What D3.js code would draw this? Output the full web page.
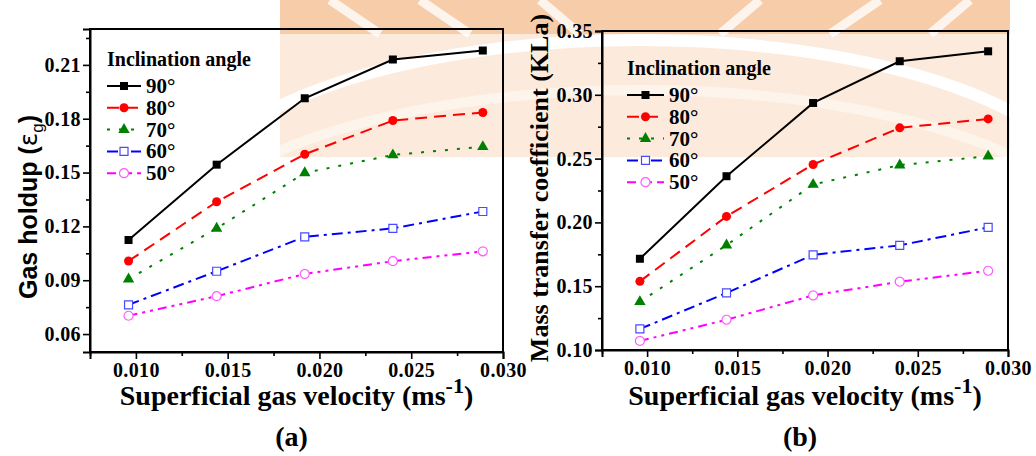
<!DOCTYPE html>
<html>
<head>
<meta charset="utf-8">
<script src="https://cdn.jsdelivr.net/npm/d3@7/dist/d3.min.js"></script>
<style>
  body { margin: 0; background: #ffffff; }
  svg { display: block; }
</style>
</head>
<body>
<div id="chart"></div>
<script>
// ---- data ----
const velocity = [0.0096, 0.0144, 0.0192, 0.0240, 0.0289];
const angles = ["90°", "80°", "70°", "60°", "50°"];

// (a) gas holdup
const holdup90 = [0.1124, 0.1544, 0.1914, 0.2130, 0.2180];
const holdup80 = [0.1007, 0.1337, 0.1602, 0.1790, 0.1835];
const holdup70 = [0.0906, 0.1189, 0.1498, 0.1598, 0.1644];
const holdup60 = [0.0763, 0.0950, 0.1142, 0.1189, 0.1283];
const holdup50 = [0.0702, 0.0811, 0.0935, 0.1006, 0.1061];

// (b) mass transfer coefficient
const kla90 = [0.1715, 0.2362, 0.2936, 0.3263, 0.3341];
const kla80 = [0.1538, 0.2047, 0.2454, 0.2741, 0.2811];
const kla70 = [0.1378, 0.1822, 0.2297, 0.2449, 0.2519];
const kla60 = [0.1165, 0.1447, 0.1746, 0.1820, 0.1961];
const kla50 = [0.1071, 0.1237, 0.1428, 0.1535, 0.1621];

const xTicks = [0.010, 0.015, 0.020, 0.025, 0.030];
const xMinor = [0.0075, 0.0125, 0.0175, 0.0225, 0.0275];
const holdupTicks = [0.06, 0.09, 0.12, 0.15, 0.18, 0.21];
const holdupMinor = [0.075, 0.105, 0.135, 0.165, 0.195, 0.225];
const klaTicks = [0.10, 0.15, 0.20, 0.25, 0.30, 0.35];
const klaMinor = [0.125, 0.175, 0.225, 0.275, 0.325];

// ---- styles ----
const serif = "'Times New Roman', 'Liberation Serif', serif";
const sans = "Arial, 'Liberation Sans', sans-serif";
const seriesStyle = [
  { color: "#000000", dash: null, symbol: d3.symbolSquare, size: 64, open: false },
  { color: "#ff0000", dash: "12,7", symbol: d3.symbolCircle, size: 64, open: false },
  { color: "#008000", dash: "3,9", symbol: d3.symbolTriangle, size: 56, open: false },
  { color: "#0000ff", dash: "11,5,3,5", symbol: d3.symbolSquare, size: 64, open: true, stroke: "#4a4aff" },
  { color: "#ff00ff", dash: "9,5,3,5,3,5", symbol: d3.symbolCircle, size: 64, open: true, stroke: "#ff5cff" }
];

const W = 1036, H = 456;
const svg = d3.select("#chart").append("svg").attr("width", W).attr("height", H);

// faint watermark behind the figure
const defs = svg.append("defs");
defs.append("clipPath").attr("id", "wmclip")
  .append("rect").attr("x", 280).attr("y", 0).attr("width", 730).attr("height", 157);
const wm = svg.append("g").attr("clip-path", "url(#wmclip)");
wm.append("rect").attr("x", 280).attr("y", 0).attr("width", 730).attr("height", 157)
  .attr("fill", "#fcebdc");
wm.append("rect").attr("x", 280).attr("y", 0).attr("width", 730).attr("height", 34)
  .attr("fill", "#f7cca8");
wm.append("ellipse").attr("cx", 640).attr("cy", 205).attr("rx", 450).attr("ry", 165)
  .attr("fill", "none").attr("stroke", "#ffffff").attr("stroke-width", 12);
wm.append("ellipse").attr("cx", 640).attr("cy", 260).attr("rx", 470).attr("ry", 170)
  .attr("fill", "none").attr("stroke", "#fdf4ec").attr("stroke-width", 10);
[[330, 380], [420, 470], [540, 580], [760, 720], [880, 830], [970, 930]].forEach(p => {
  wm.append("line").attr("x1", p[0]).attr("y1", 0).attr("x2", p[1]).attr("y2", 34)
    .attr("stroke", "#ffffff").attr("stroke-width", 9).attr("opacity", 0.8);
});

function drawPanel(cfg) {
  const x = d3.scaleLinear().domain([0.0075, 0.030]).range([cfg.left, cfg.right]);
  const y = d3.scaleLinear().domain(cfg.yDomain).range([cfg.bottom, cfg.top]);
  const g = svg.append("g");

  // frame
  g.append("rect")
    .attr("x", cfg.left).attr("y", cfg.top)
    .attr("width", cfg.right - cfg.left).attr("height", cfg.bottom - cfg.top)
    .attr("fill", "none").attr("stroke", "#000").attr("stroke-width", 2);

  // x axis
  g.append("g").attr("transform", `translate(0,${cfg.bottom})`)
    .call(d3.axisBottom(x).tickValues(xTicks).tickSize(7).tickPadding(4)
      .tickFormat(d3.format(".3f")));
  g.append("g").attr("transform", `translate(0,${cfg.bottom})`)
    .call(d3.axisBottom(x).tickValues(xMinor).tickSize(4).tickFormat(""))
    .call(a => a.select(".domain").remove());

  // y axis
  g.append("g").attr("transform", `translate(${cfg.left},0)`)
    .call(d3.axisLeft(y).tickValues(cfg.yTicks).tickSize(7).tickPadding(2)
      .tickFormat(d3.format(".2f")));
  g.append("g").attr("transform", `translate(${cfg.left},0)`)
    .call(d3.axisLeft(y).tickValues(cfg.yMinor).tickSize(4).tickFormat(""))
    .call(a => a.select(".domain").remove());

  g.selectAll(".tick line").attr("stroke", "#000").attr("stroke-width", 1.6);
  g.selectAll(".domain").attr("stroke", "#000").attr("stroke-width", 2);
  g.selectAll(".tick text")
    .style("font-family", serif).style("font-weight", "bold")
    .style("font-size", "20px").style("letter-spacing", "0.4px").attr("fill", "#000");

  // series
  const line = d3.line().x((d, i) => x(velocity[i])).y(d => y(d));
  cfg.series.forEach((vals, si) => {
    const st = seriesStyle[si];
    g.append("path").datum(vals)
      .attr("d", line)
      .attr("fill", "none")
      .attr("stroke", st.color)
      .attr("stroke-width", 2)
      .attr("stroke-dasharray", st.dash);
    g.selectAll(null).data(vals).enter().append("path")
      .attr("transform", (d, i) => `translate(${x(velocity[i])},${y(d)})`)
      .attr("d", d3.symbol().type(st.symbol).size(st.size))
      .attr("fill", st.open ? "#ffffff" : st.color)
      .attr("stroke", st.open ? st.stroke : "none")
      .attr("stroke-width", 1.2);
  });

  // legend
  const lg = g.append("g");
  lg.append("text")
    .attr("x", cfg.legX).attr("y", cfg.legY)
    .style("font-family", serif).style("font-weight", "bold").style("font-size", "20px")
    .text("Inclination angle");
  angles.forEach((lab, i) => {
    const st = seriesStyle[i];
    const ly = cfg.legY + 20 + i * 21.8;
    lg.append("line")
      .attr("x1", cfg.legX).attr("x2", cfg.legX + cfg.legLen)
      .attr("y1", ly).attr("y2", ly)
      .attr("stroke", st.color).attr("stroke-width", 2)
      .attr("stroke-dasharray", st.dash);
    lg.append("path")
      .attr("transform", `translate(${cfg.legX + cfg.legLen / 2},${ly})`)
      .attr("d", d3.symbol().type(st.symbol).size(st.size))
      .attr("fill", st.open ? "#ffffff" : st.color)
      .attr("stroke", st.open ? st.stroke : "none")
      .attr("stroke-width", 1.2);
    lg.append("text")
      .attr("x", cfg.legX + cfg.legLen + 5).attr("y", ly + 7)
      .style("font-family", serif).style("font-weight", "bold").style("font-size", "21px")
      .text(lab);
  });

  // x title
  const xt = g.append("text")
    .attr("x", (cfg.left + cfg.right) / 2).attr("y", 405)
    .attr("text-anchor", "middle")
    .style("font-family", serif).style("font-weight", "bold").style("font-size", "28px");
  xt.append("tspan").text("Superficial gas velocity (ms");
  xt.append("tspan").attr("dy", -12).style("font-size", "22px").text("-1");
  xt.append("tspan").attr("dy", 12).text(")");

  // panel tag
  g.append("text")
    .attr("x", (cfg.left + cfg.right) / 2 - 5).attr("y", 446)
    .attr("text-anchor", "middle")
    .style("font-family", serif).style("font-weight", "bold").style("font-size", "28px")
    .text(cfg.tag);

  return g;
}

const ga = drawPanel({
  left: 90, right: 503, top: 29, bottom: 352,
  yDomain: [0.05, 0.23], yTicks: holdupTicks, yMinor: holdupMinor,
  series: [holdup90, holdup80, holdup70, holdup60, holdup50],
  legX: 107, legY: 66, legLen: 34, tag: "(a)"
});

const gb = drawPanel({
  left: 602, right: 1008, top: 31, bottom: 350,
  yDomain: [0.10, 0.35], yTicks: klaTicks, yMinor: klaMinor,
  series: [kla90, kla80, kla70, kla60, kla50],
  legX: 627, legY: 75, legLen: 37, tag: "(b)"
});

// y titles
const yta = ga.append("text")
  .attr("transform", "translate(37,207) rotate(-90)")
  .attr("text-anchor", "middle")
  .style("font-family", sans).style("font-weight", "bold").style("font-size", "25px");
yta.append("tspan").text("Gas holdup (");
yta.append("tspan").style("font-weight", "normal").style("font-family", "'DejaVu Sans', sans-serif").text("ε");
yta.append("tspan").attr("dy", 6).style("font-size", "17px").style("font-weight", "normal").text("g");
yta.append("tspan").attr("dy", -6).text(")");

gb.append("text")
  .attr("transform", "translate(548,188) rotate(-90)")
  .attr("text-anchor", "middle")
  .style("font-family", serif).style("font-weight", "bold").style("font-size", "26px")
  .text("Mass transfer coefficient (KLa)");
</script>
</body>
</html>
